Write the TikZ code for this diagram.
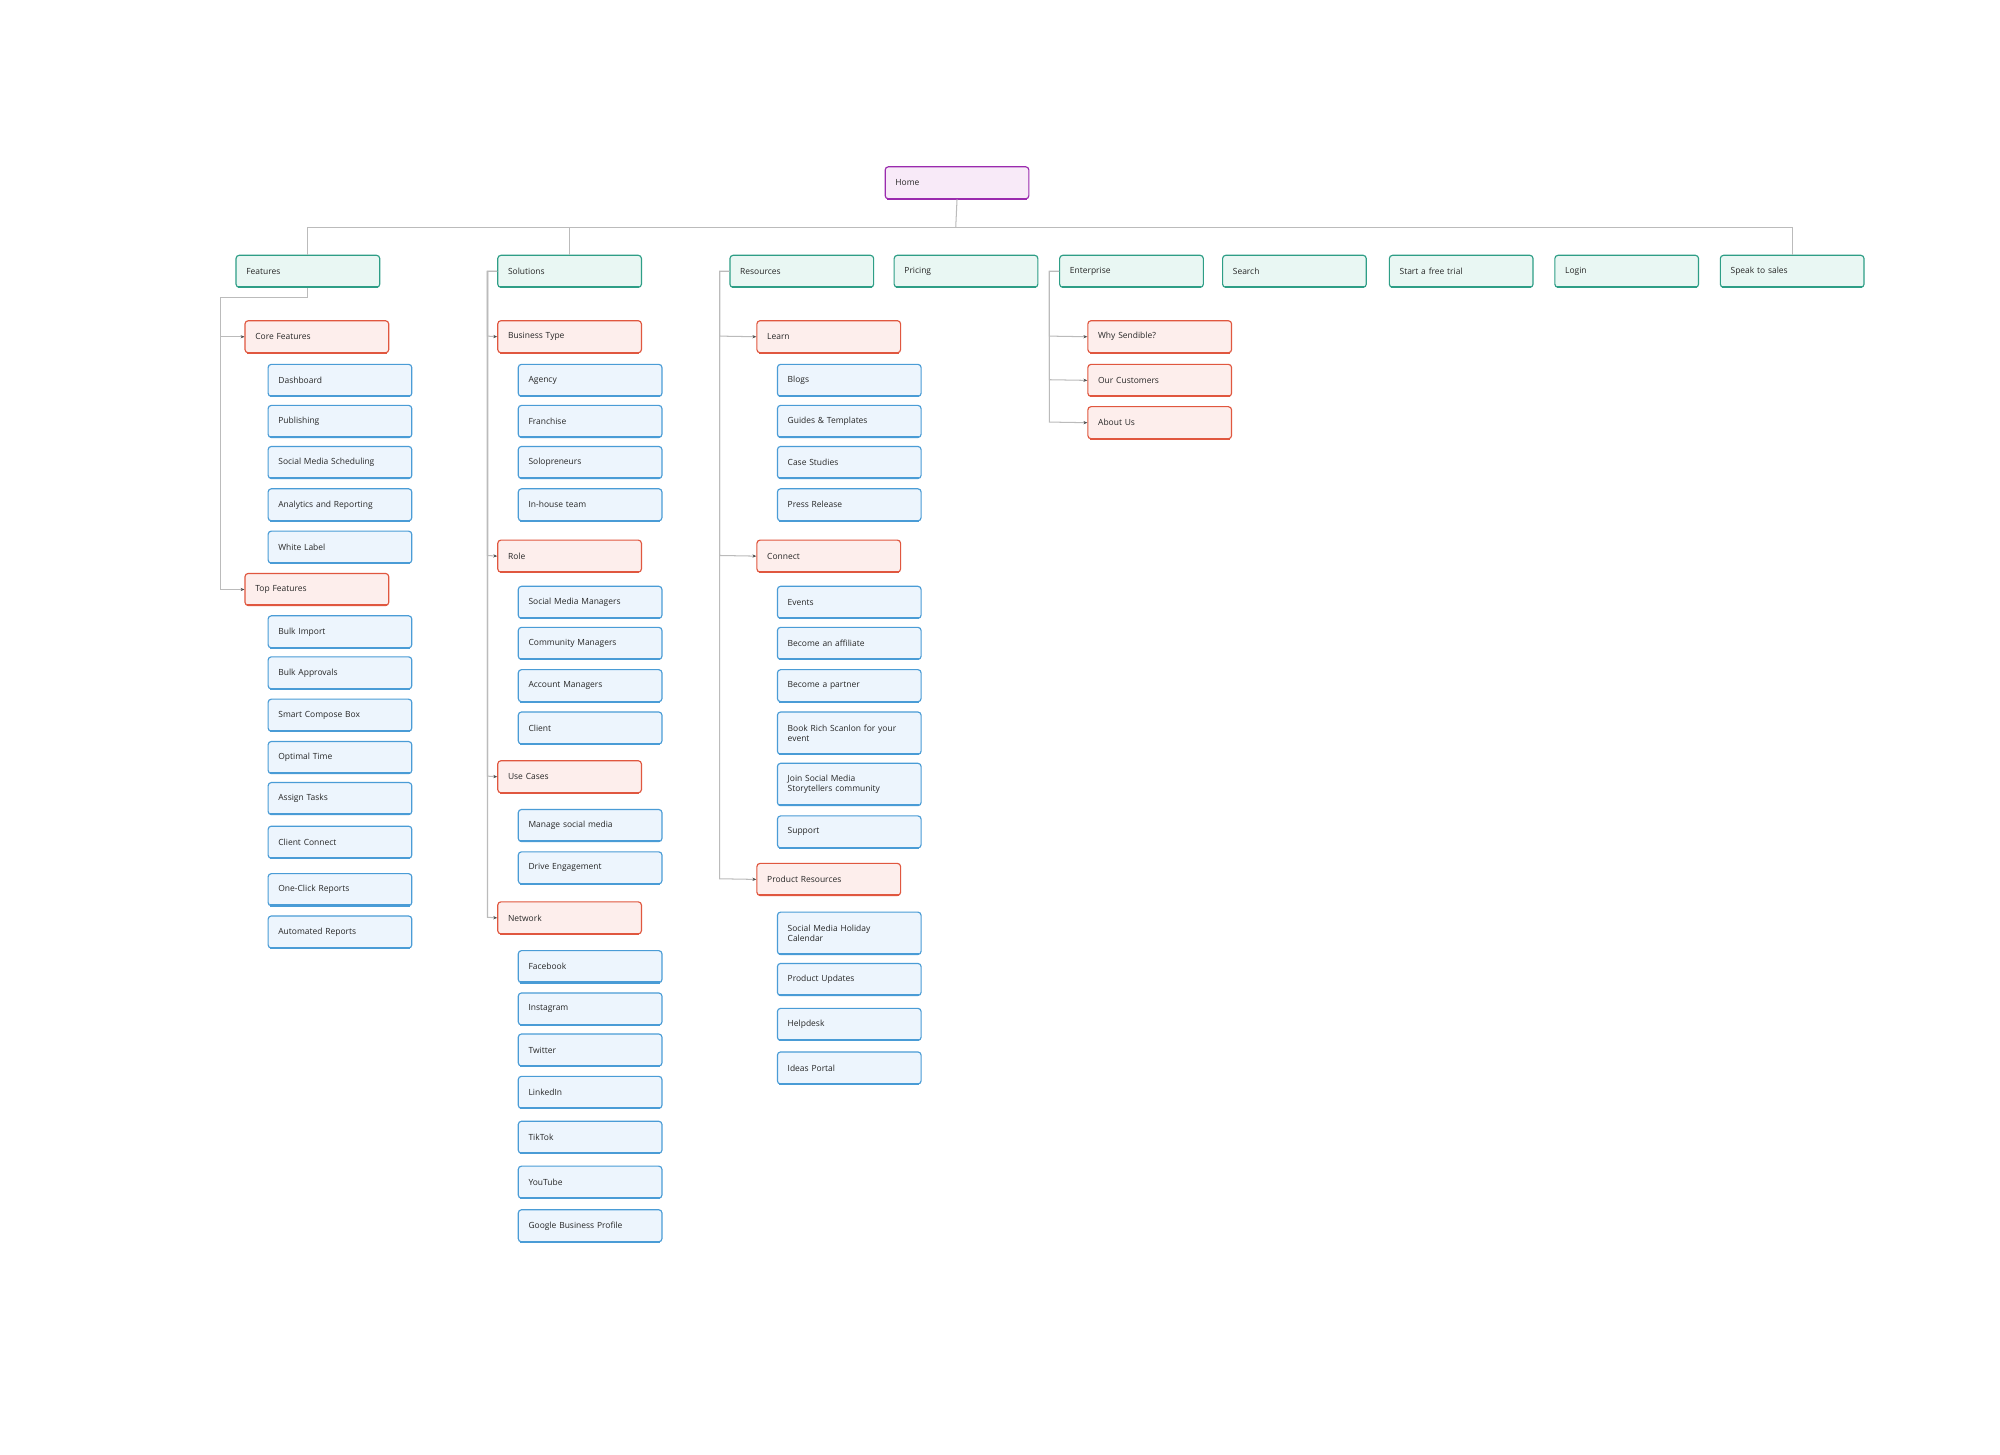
\documentclass[tikz,border=0pt]{standalone}
\usepackage{fontspec}
\setmainfont{Open Sans}
\usetikzlibrary{arrows.meta}
\definecolor{tf}{HTML}{E9F7F3}\definecolor{tb}{HTML}{2E9E86}
\definecolor{rf}{HTML}{FDEEEC}\definecolor{rb}{HTML}{E0573F}
\definecolor{bf}{HTML}{EDF5FD}\definecolor{bb}{HTML}{4A9CD6}
\definecolor{pf}{HTML}{F8EAF8}\definecolor{pb}{HTML}{9A2BAE}
\definecolor{ln}{HTML}{BBBBBB}
\tikzset{
 box/.style={rectangle,rounded corners=2.5pt,line width=0.9pt,minimum width=112pt,text width=96pt,align=left,inner xsep=8pt,font=\fontsize{6.6}{8}\selectfont,text=black!85},
 T/.style={box,fill=tf,draw=tb}, R/.style={box,fill=rf,draw=rb},
 Bl/.style={box,fill=bf,draw=bb}, P/.style={box,fill=pf,draw=pb},
 conn/.style={draw=ln,line width=0.8pt},
 arr/.style={conn,-{Stealth[length=3pt,width=2.5pt,color=black!70]}}
}
% \bx{style}{name}{x}{y}{h}{text}
\newcommand{\bx}[6]{%
 \node[#1,minimum height=#5pt] (#2) at (#3+56,#4+#5/2) {#6};
 \draw[#1,draw,line width=1.6pt,fill=none,text width=,minimum width=] ([xshift=2pt,yshift=0.6pt]#2.south west)--([xshift=-2pt,yshift=0.6pt]#2.south east);}
\begin{document}
\begin{tikzpicture}[x=1pt,y=-1pt]
\useasboundingbox[fill=white] (0,0) rectangle (1559,1134);
\bx{P}{home}{690}{130}{25}{Home}
\foreach \n/\x/\t in {feat/184/Features,sol/388/Solutions,res/569/Resources,pri/697/Pricing,ent/826/Enterprise,sea/953/Search,tri/1083/Start a free trial,log/1212/Login,spk/1341/Speak to sales}{
 \bx{T}{\n}{\x}{199}{25}{\t}}
\draw[conn] (home.south)--(745,177);
\draw[conn] (feat.north)|-(spk.north|-0,177)--(spk.north);
\draw[conn] (sol.north)--(sol.north|-0,177);
% Features
\bx{R}{core}{191}{250}{25}{Core Features}
\bx{R}{top}{191}{447}{25}{Top Features}
\coordinate (fa) at (240,232);
\draw[conn] (feat.south)--(fa)--(172,232)--(172,262);
\draw[arr] (172,232)|-(core.west);
\draw[arr] (172,232)|-(top.west);
\foreach \n/\y/\t in {a1/284/Dashboard,a2/316/Publishing,a3/348/Social Media Scheduling,a4/381/Analytics and Reporting,a5/414/White Label,a6/480/Bulk Import,a7/512/Bulk Approvals,a8/545/Smart Compose Box,a9/578/Optimal Time,a10/610/Assign Tasks,a11/644/Client Connect,a12/681/One-Click Reports,a13/714/Automated Reports}{
 \bx{Bl}{\n}{209}{\y}{25}{\t}}
% Solutions
\foreach \n/\y/\t in {bt/250/Business Type,role/421/Role,uc/593/Use Cases,net/703/Network}{
 \bx{R}{\n}{388}{\y}{25}{\t}
 \draw[arr] (sol.west)-|(380,\y+12)--(\n.west);}
\foreach \n/\y/\t in {b1/284/Agency,b2/316/Franchise,b3/348/Solopreneurs,b4/381/In-house team,b5/457/Social Media Managers,b6/489/Community Managers,b7/522/Account Managers,b8/555/Client,b9/631/Manage social media,b10/664/Drive Engagement,b11/741/Facebook,b12/774/Instagram,b13/806/Twitter,b14/839/LinkedIn,b15/874/TikTok,b16/909/YouTube,b17/943/Google Business Profile}{
 \bx{Bl}{\n}{404}{\y}{25}{\t}}
% Resources
\foreach \n/\y/\t in {learn/250/Learn,con/421/Connect,pr/673/Product Resources}{
 \bx{R}{\n}{590}{\y}{25}{\t}
 \draw[arr] (res.west)-|(561,\y+12)--(\n.west);}
\foreach \n/\y/\h/\t in {c1/284/25/Blogs,c2/316/25/Guides \& Templates,c3/348/25/Case Studies,c4/381/25/Press Release,c5/457/25/Events,c6/489/25/Become an affiliate,c7/522/25/Become a partner,c8/555/33/Book Rich Scanlon for your\\event,c9/595/33/Join Social Media\\Storytellers community,c10/636/25/Support,c11/711/33/Social Media Holiday\\Calendar,c12/751/25/Product Updates,c13/786/25/Helpdesk,c14/820/25/Ideas Portal}{
 \bx{Bl}{\n}{606}{\y}{\h}{\t}}
% Enterprise
\foreach \n/\y/\t in {why/250/Why Sendible?,cus/284/Our Customers,abt/317/About Us}{
 \bx{R}{\n}{848}{\y}{25}{\t}
 \draw[arr] (ent.west)-|(818,\y+12)--(\n.west);}
\end{tikzpicture}
\end{document}
